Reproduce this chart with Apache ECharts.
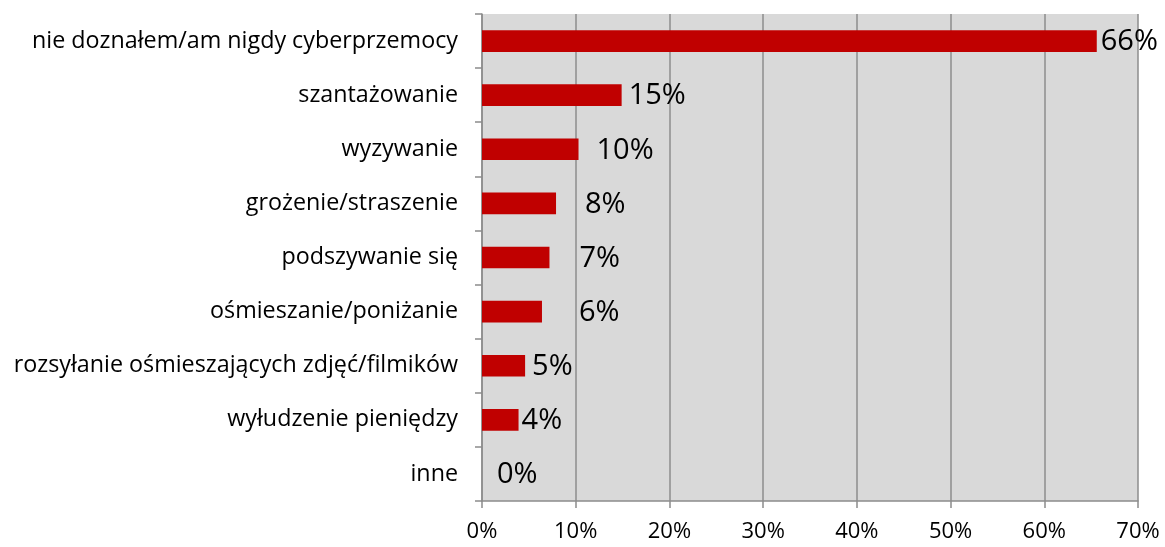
<!DOCTYPE html>
<html>
<head>
<meta charset="utf-8">
<script src="https://cdn.jsdelivr.net/npm/echarts@6/dist/echarts.min.js"></script>
<style>
  html, body { margin: 0; padding: 0; background: #fff; }
  #chart { width: 1165px; height: 547px; }
</style>
</head>
<body>
<div id="chart"></div>
<script>
// categories top to bottom
var categories = [
  'nie doznałem/am nigdy cyberprzemocy',
  'szantażowanie',
  'wyzywanie',
  'grożenie/straszenie',
  'podszywanie się',
  'ośmieszanie/poniżanie',
  'rozsyłanie ośmieszających zdjęć/filmików',
  'wyłudzenie pieniędzy',
  'inne'
];
// share of respondents, %
var values = [65.6, 14.9, 10.3, 7.9, 7.2, 6.4, 4.6, 3.9, 0];
var xTicks = [0, 10, 20, 30, 40, 50, 60, 70];

// label gap after each bar (px), as Excel placed them
var labelGap = [4, 7, 18, 29, 30, 37, 7, 3, 15];

var font = 'Open Sans';

var barData = values.map(function (v, i) {
  return {
    value: v,
    label: { offset: [labelGap[i], 1] }
  };
});

var chart = echarts.init(document.getElementById('chart'));
chart.setOption({
  backgroundColor: '#fff',
  animation: false,
  grid: {
    left: 482, right: 27, top: 14, bottom: 46,
    show: true, backgroundColor: '#d9d9d9', borderWidth: 0
  },
  xAxis: {
    type: 'value',
    min: xTicks[0], max: xTicks[xTicks.length - 1], interval: 10,
    axisLine: { show: true, lineStyle: { color: '#8c8c8c', width: 1.5 } },
    axisTick: { show: true, length: 7, lineStyle: { color: '#8c8c8c', width: 1.5 } },
    splitLine: { show: true, lineStyle: { color: '#8c8c8c', width: 1.5 } },
    axisLabel: {
      margin: 20,
      color: '#000',
      fontFamily: font,
      fontSize: 22,
      formatter: '{value}%'
    }
  },
  yAxis: {
    type: 'category',
    inverse: true,
    data: categories,
    axisLine: { show: true, lineStyle: { color: '#8c8c8c', width: 1.5 } },
    axisTick: { show: true, length: 7, lineStyle: { color: '#8c8c8c', width: 1.5 } },
    axisLabel: {
      margin: 24,
      color: '#000',
      fontFamily: font,
      fontSize: 23.3
    }
  },
  series: [{
    type: 'bar',
    data: barData,
    barWidth: '40%',
    itemStyle: { color: '#c00000' },
    label: {
      show: true,
      position: 'right',
      distance: 0,
      color: '#000',
      fontFamily: font,
      fontSize: 29,
      formatter: function (p) { return Math.round(p.value) + '%'; }
    }
  }]
});
</script>
</body>
</html>
